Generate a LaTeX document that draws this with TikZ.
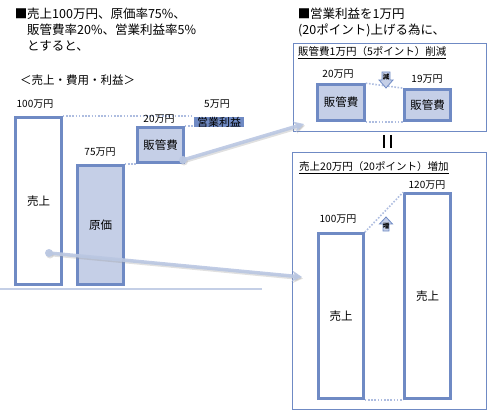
\documentclass[tikz,border=0pt]{standalone}
\usepackage{fontspec}
\setmainfont{Noto Sans CJK JP}
\usetikzlibrary{arrows.meta}
\definecolor{barblue}{HTML}{6F8AC4}
\definecolor{barfill}{HTML}{C5CFE7}
\definecolor{dotblue}{HTML}{AEBDE0}
\definecolor{connblue}{HTML}{BAC7E2}
\definecolor{baseblue}{HTML}{C4CFE6}
\begin{document}
\begin{tikzpicture}[x=1pt,y=-1pt,
  bar/.style={draw=barblue,line width=2.6pt,inner sep=0pt,font=\fontsize{11.5}{12}\selectfont},
  barw/.style={bar,fill=white},
  barf/.style={bar,fill=barfill},
  amount/.style={font=\fontsize{10}{10}\selectfont,inner sep=0pt},
  head/.style={font=\fontsize{12.5}{13}\selectfont,inner sep=0pt,anchor=west},
  title/.style={font=\fontsize{10.5}{11}\selectfont,inner sep=0pt,anchor=west},
  dots/.style={draw=dotblue,line width=1.6pt,dash pattern=on 1.6pt off 1.6pt},
  frame/.style={draw=barblue,line width=0.9pt},
  smallarrow/.style={draw=barblue,fill=barfill,line width=0.8pt},
  tiny/.style={font=\fontsize{6.5}{6.5}\selectfont\bfseries,inner sep=0pt},
  conn/.style={draw=connblue,line width=3.5pt,opacity=0.9,arrows={-Stealth[length=10pt,width=11pt]}},
  connshadow/.style={draw=black!40,line width=3.5pt,opacity=0.3,arrows={-Stealth[length=10pt,width=11pt]}},
  conndot/.style={fill=connblue,opacity=0.95},
  conndotshadow/.style={fill=black!40,opacity=0.3},
]
\path[use as bounding box] (0,0) rectangle (502,411);

% ---- top-left text
\node[font=\fontsize{12.5}{13}\selectfont,inner sep=0pt] (sqa) at (21,14) {■};
\node[head] (t1) at (27,14) {売上100万円、原価率75\%、};
\node[head] (t2) at (27,30) {販管費率20\%、営業利益率5\%};
\node[head] (t3) at (27,46) {とすると、};
\node[head,font=\fontsize{11.5}{12}\selectfont] (t4) at (20,80) {＜売上・費用・利益＞};

% ---- left chart
\coordinate (bl) at (0,289);
\coordinate (br) at (262,289);
\draw[baseblue,line width=2.5pt] (bl) -- (br);

\node[barw,minimum width=46,minimum height=167] (sales) at (38.5,201) {売上};
\node[barf,minimum width=46,minimum height=119] (cost) at (100.5,225) {原価};
\node[barf,minimum width=46,minimum height=35] (hk1) at (160.5,145) {販管費};
\node[fill=barblue,minimum width=50,minimum height=10,inner sep=0pt] (opbox) at (219,122) {};
\node[inner sep=0pt,font=\fontsize{11}{11}\selectfont] (optext) at (opbox) {営業利益};

\draw[dots] (sales.north east) -- (sales.north east -| opbox.west);
\draw[dots] (hk1.north east) -- (hk1.north east -| opbox.west);
\draw[dots] (cost.north east) -- (cost.north east -| hk1.west);

\node[amount] (a100) at (35,104) {100万円};
\node[amount] (a75) at (100,152) {75万円};
\node[amount] (a20) at (159,119) {20万円};
\node[amount] (a5) at (217,104) {5万円};

% ---- top-right text
\node[font=\fontsize{12.5}{13}\selectfont,inner sep=0pt] (sqb) at (304,14) {■};
\node[head] (r1) at (310,14) {営業利益を1万円};
\node[head] (r2) at (298,30) {(20ポイント)上げる為に、};

% ---- upper frame
\node[frame,minimum width=193,minimum height=88,inner sep=0pt] (f1) at (389.5,87) {};
\node[title] (f1t) at (298,53) {\underline{販管費1万円（5ポイント）削減}};
\node[barf,minimum width=47,minimum height=36] (hk2) at (341,102.5) {販管費};
\node[barf,minimum width=46,minimum height=31] (hk3) at (427.5,105) {販管費};
\node[amount] (b20) at (338,74) {20万円};
\node[amount] (b19) at (427,79) {19万円};
\draw[dots] (hk2.north east) -- (hk3.north west);
\draw[dots] (hk2.south east) -- (hk3.south west);
\draw[smallarrow] (382,72) -- (390,72) -- (390,80) -- (393,80) -- (386,88) -- (379,80) -- (382,80) -- cycle;
\node[tiny] (gen) at (386,77) {減};

% ---- equals (vertical)
\coordinate (e1a) at (384,135); \coordinate (e1b) at (384,148);
\coordinate (e2a) at (390.5,135); \coordinate (e2b) at (390.5,148);
\draw[line width=2pt] (e1a) -- (e1b);
\draw[line width=2pt] (e2a) -- (e2b);

% ---- lower frame
\node[frame,minimum width=194,minimum height=257,inner sep=0pt] (f2) at (389,280.5) {};
\node[title] (f2t) at (299,168) {\underline{売上20万円（20ポイント）増加}};
\node[barw,minimum width=45,minimum height=165] (s2) at (341,316) {売上};
\node[barw,minimum width=46,minimum height=205] (s3) at (427.5,296) {売上};
\node[amount] (c100) at (338,219) {100万円};
\node[amount] (c120) at (427,185) {120万円};
\draw[dots] (s2.north east) -- (s3.north west);
\draw[dots] (s2.south east) -- (s3.south west);
\draw[smallarrow] (386,217) -- (392.5,224) -- (389,224) -- (389,231) -- (383,231) -- (383,224) -- (379.5,224) -- cycle;
\node[tiny] (zou) at (386,226) {増};

% ---- connectors
\coordinate (c1s) at (183,160);
\coordinate (c1e) at (304,124);
\coordinate (c2s) at (49,253);
\coordinate (c2e) at (302,277);
\begin{scope}[transform canvas={xshift=1pt,yshift=-1.5pt}]
  \draw[connshadow] (c1s) -- (c1e);
  \draw[connshadow] (c2s) -- (c2e);
  \fill[conndotshadow] (c1s) circle[radius=4pt];
  \fill[conndotshadow] (c2s) circle[radius=4pt];
\end{scope}
\draw[conn] (c1s) -- (c1e);
\draw[conn] (c2s) -- (c2e);
\fill[conndot] (c1s) circle[radius=4pt];
\fill[conndot] (c2s) circle[radius=4pt];
\end{tikzpicture}
\end{document}
